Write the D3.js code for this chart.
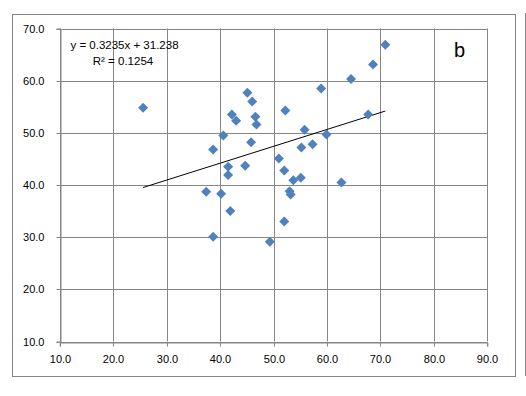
<!DOCTYPE html>
<html>
<head>
<meta charset="utf-8">
<script src="https://cdn.jsdelivr.net/npm/d3@7"></script>
<style>
  html, body { margin: 0; padding: 0; background: #fff; }
  svg { display: block; }
  text { font-family: "Liberation Sans", Arial, sans-serif; fill: #000; }
</style>
</head>
<body>
<script>
// ---- data ----
const xValues = [45.1, 46.0, 42.2, 43.0, 46.6, 46.8, 52.2, 58.9, 67.7, 40.6, 55.8, 59.9,
                 38.7, 45.8, 55.2, 57.3, 51.0, 41.5, 44.7, 41.5, 52.0, 53.7, 55.1, 62.7,
                 37.4, 40.2, 53.0, 53.2, 41.9, 52.0, 38.7, 49.3, 25.6, 70.9, 68.6, 64.5];
const yValues = [57.7, 56.0, 53.5, 52.3, 53.1, 51.6, 54.3, 58.5, 53.5, 49.5, 50.6, 49.7,
                 46.8, 48.2, 47.2, 47.8, 45.1, 43.5, 43.7, 41.9, 42.8, 40.9, 41.4, 40.5,
                 38.7, 38.3, 38.8, 38.2, 35.0, 33.0, 30.1, 29.1, 54.8, 66.9, 63.1, 60.3];
const xTicks = [10, 20, 30, 40, 50, 60, 70, 80, 90];
const yTicks = [10, 20, 30, 40, 50, 60, 70];
const trendSlope = 0.3235;
const trendIntercept = 31.238;
const equationLabel = "y = 0.3235x + 31.238";
const r2Label = "R\u00B2 = 0.1254";
const panelLabel = "b";

// ---- layout ----
const W = 526, H = 396;
const plot = { left: 59.7, right: 487.4, top: 28.5, bottom: 341.5 };
const gridColor = "#868686";

const svg = d3.select("body").append("svg").attr("width", W).attr("height", H);

// outer chart border
svg.append("rect")
  .attr("x", 12.5).attr("y", 14.5).attr("width", 503).attr("height", 362)
  .attr("fill", "#fff").attr("stroke", gridColor).attr("stroke-width", 1);
// adjacent chart edge
svg.append("line")
  .attr("x1", 525.5).attr("x2", 525.5).attr("y1", 13).attr("y2", 376)
  .attr("stroke", gridColor).attr("stroke-width", 1);

const x = d3.scaleLinear().domain([10, 90]).range([plot.left, plot.right]);
const y = d3.scaleLinear().domain([10, 70]).range([plot.bottom, plot.top]);

// gridlines
const gV = svg.append("g");
gV.selectAll("line").data(xTicks).join("line")
  .attr("x1", d => Math.round(x(d)) + 0.5).attr("x2", d => Math.round(x(d)) + 0.5)
  .attr("y1", plot.top).attr("y2", plot.bottom)
  .attr("stroke", gridColor).attr("stroke-width", 1);
const gH = svg.append("g");
gH.selectAll("line").data(yTicks).join("line")
  .attr("y1", d => Math.round(y(d)) + 0.5).attr("y2", d => Math.round(y(d)) + 0.5)
  .attr("x1", plot.left).attr("x2", plot.right)
  .attr("stroke", gridColor).attr("stroke-width", 1);

// axes
const xAxis = d3.axisBottom(x).tickValues(xTicks).tickFormat(d3.format(".1f")).tickSize(4).tickPadding(9);
const yAxis = d3.axisLeft(y).tickValues(yTicks).tickFormat(d3.format(".1f")).tickSize(4).tickPadding(12);

const gx = svg.append("g").attr("transform", `translate(0,${Math.round(plot.bottom) + 0.5})`).call(xAxis);
const gy = svg.append("g").attr("transform", `translate(${Math.round(plot.left) + 0.5},0)`).call(yAxis);
[gx, gy].forEach(g => {
  g.select(".domain").attr("stroke", gridColor);
  g.selectAll(".tick line").attr("stroke", gridColor);
  g.selectAll(".tick text").attr("font-size", "11px").attr("fill", "#000")
    .attr("font-family", "'Liberation Sans', Arial, sans-serif");
});
gx.selectAll(".tick").attr("transform", d => `translate(${Math.round(x(d)) + 0.5},0)`);
gy.selectAll(".tick").attr("transform", d => `translate(0,${Math.round(y(d)) + 0.5})`);

// trendline
const xMin = d3.min(xValues), xMax = d3.max(xValues);
svg.append("line")
  .attr("x1", x(xMin)).attr("y1", y(trendSlope * xMin + trendIntercept))
  .attr("x2", x(xMax)).attr("y2", y(trendSlope * xMax + trendIntercept))
  .attr("stroke", "#000").attr("stroke-width", 1);

// points
const pts = xValues.map((v, i) => ({ x: v, y: yValues[i] }));
const diamond = d3.symbol().type(d3.symbolSquare).size(50);
svg.append("g").selectAll("path").data(pts).join("path")
  .attr("d", diamond)
  .attr("transform", d => `translate(${x(d.x)},${y(d.y)}) rotate(45)`)
  .attr("fill", "#4F81BD");

// equation labels
svg.append("text").attr("x", 124.5).attr("y", 48.5).attr("text-anchor", "middle")
  .attr("font-size", "11.5px").text(equationLabel);
svg.append("text").attr("x", 123).attr("y", 64.5).attr("text-anchor", "middle")
  .attr("font-size", "11.5px").text(r2Label);

// panel label
svg.append("text").attr("x", 454).attr("y", 57.3)
  .attr("font-size", "20px").text(panelLabel);
</script>
</body>
</html>
